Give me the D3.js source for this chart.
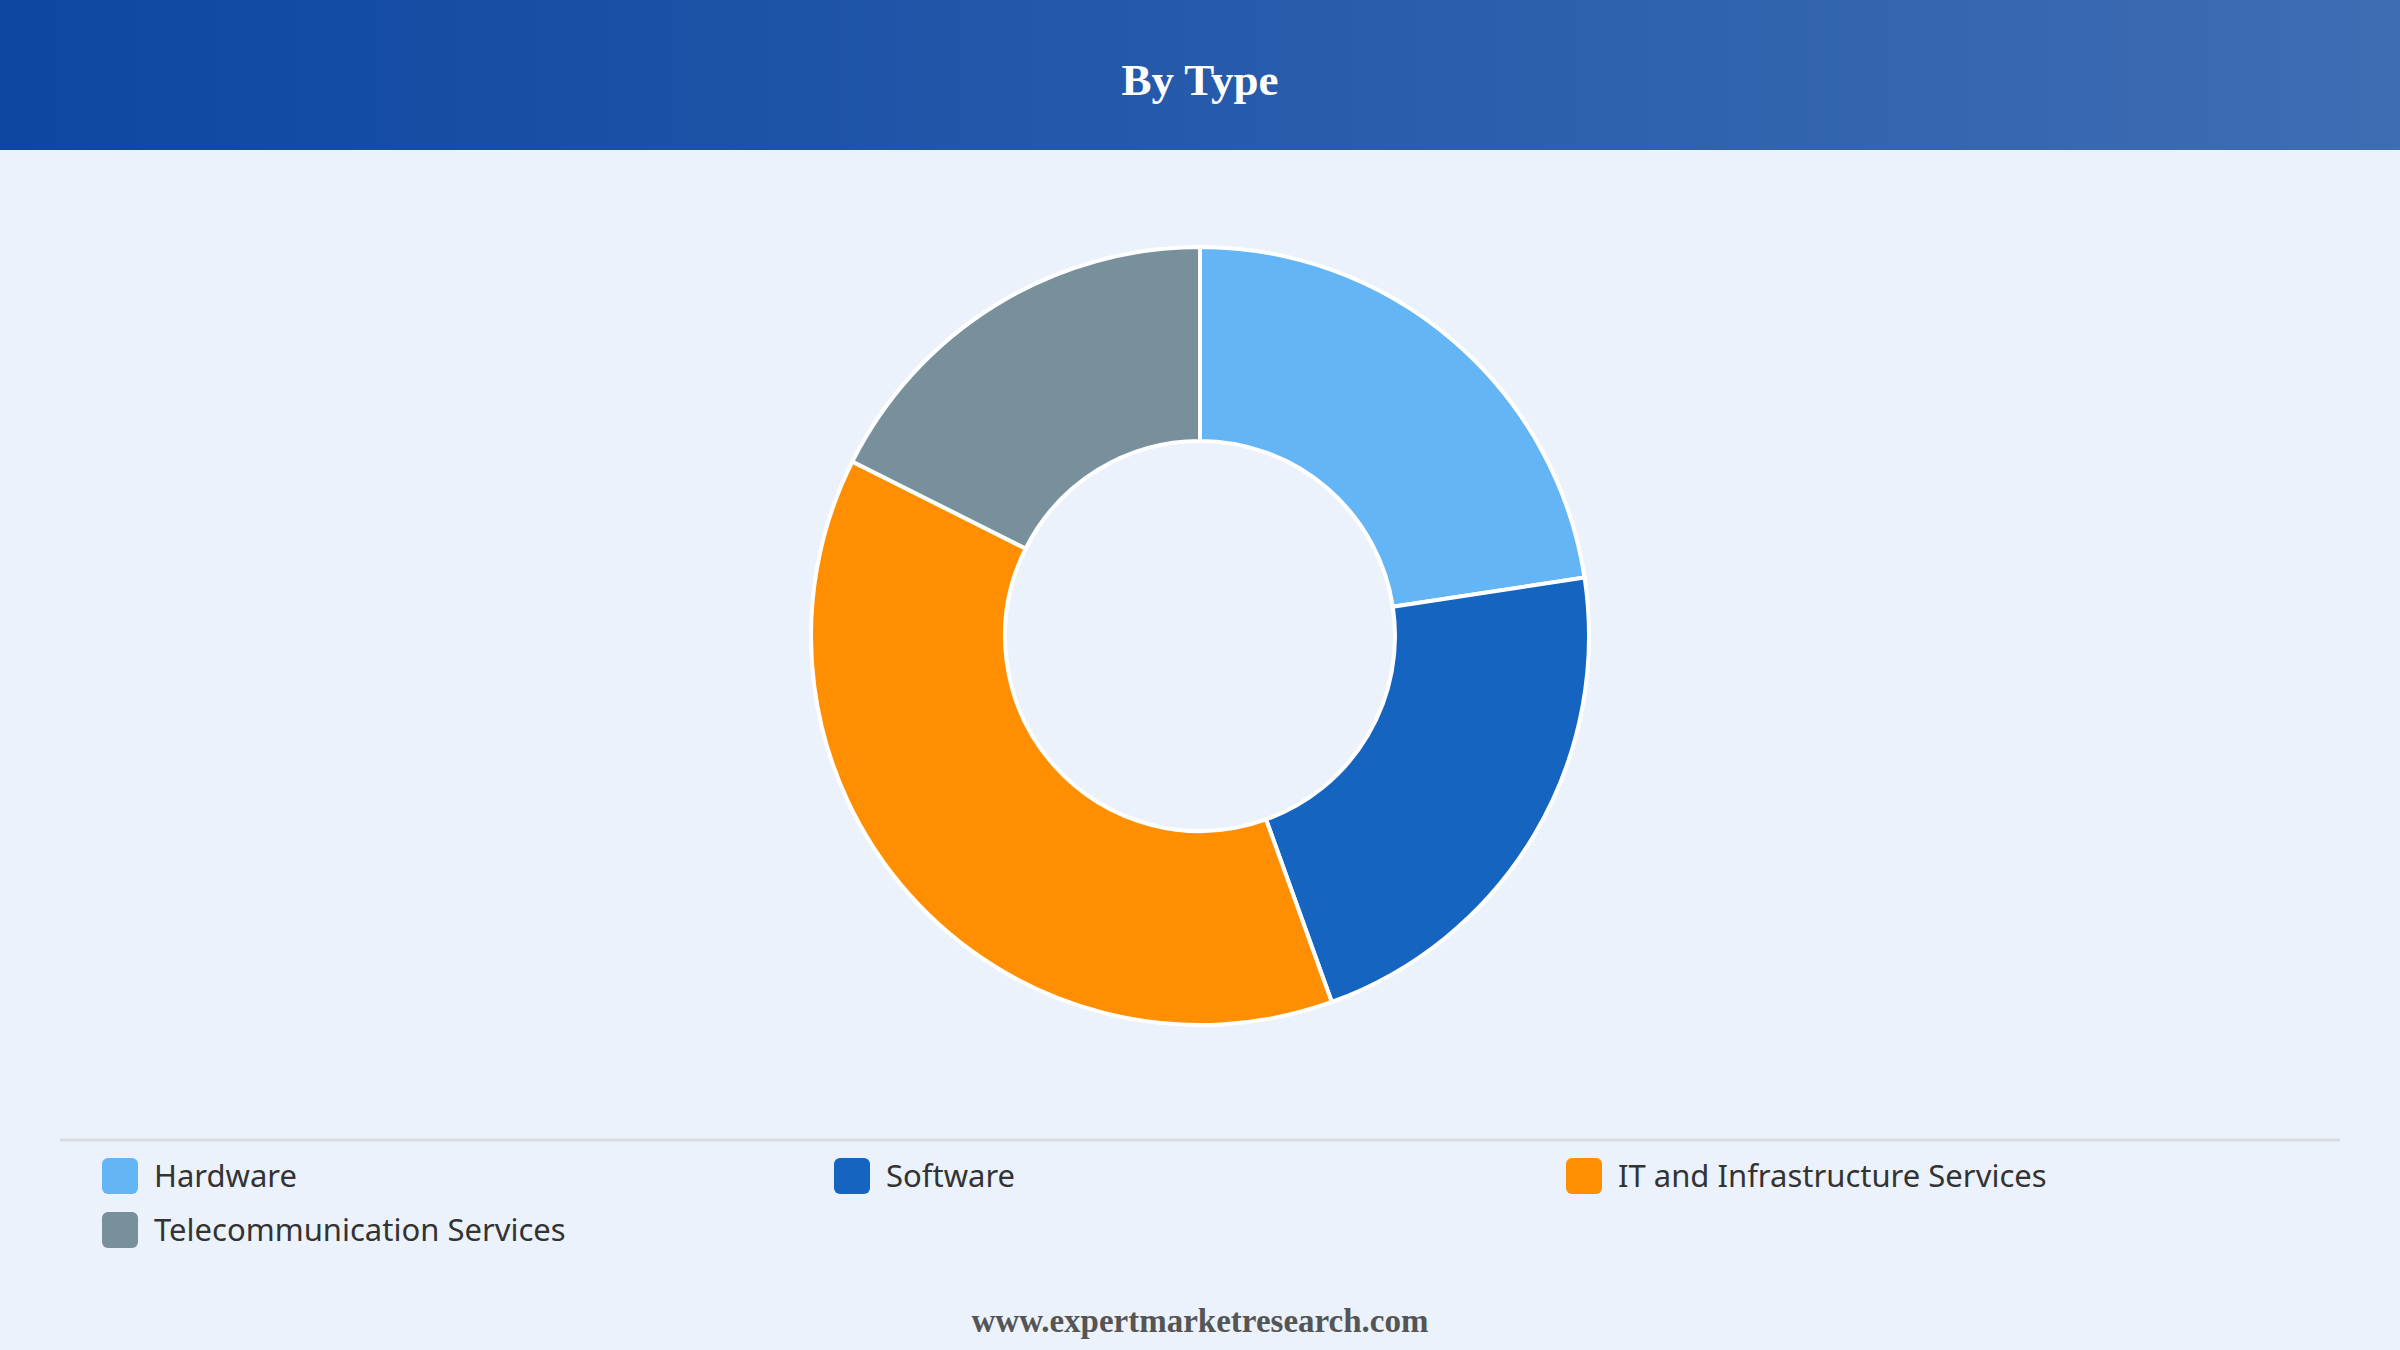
<html>
<head>
<script src="https://d3js.org/d3.v7.min.js"></script>
<style>
  body { margin: 0; background: #EBF2FB; }
  svg { display: block; }
</style>
</head>
<body>
<svg id="chart" width="2400" height="1350"></svg>
<script>
// chart data
var categories = ["Hardware", "Software", "IT and Infrastructure Services", "Telecommunication Services"];
var shares = [22.6, 21.9, 37.9, 17.6];
var colours = ["#64B5F6", "#1565C0", "#FF8F00", "#78909C"];

var W = 2400, H = 1350;
var svg = d3.select("#chart");

// background
svg.append("rect").attr("width", W).attr("height", H).attr("fill", "#EBF2FB");

// header band with gradient
var defs = svg.append("defs");
var grad = defs.append("linearGradient").attr("id", "hdr").attr("x1", "0%").attr("x2", "100%");
grad.append("stop").attr("offset", "0%").attr("stop-color", "#0D47A1");
grad.append("stop").attr("offset", "100%").attr("stop-color", "#3F6DB4");
svg.append("rect").attr("width", W).attr("height", 150).attr("fill", "url(#hdr)");

svg.append("text")
    .attr("x", W / 2).attr("y", 95)
    .attr("text-anchor", "middle")
    .style("font-family", "'Liberation Serif', 'Times New Roman', serif")
    .style("font-weight", "bold")
    .style("font-size", "45px")
    .attr("fill", "#fff")
    .text("By Type");

// donut
var cx = 1200, cy = 636;
var pie = d3.pie().sort(null).value(function(d) { return d; });
var arc = d3.arc().innerRadius(195).outerRadius(389);

var g = svg.append("g").attr("transform", "translate(" + cx + "," + cy + ")");
g.selectAll("path")
  .data(pie(shares))
  .enter().append("path")
    .attr("d", arc)
    .attr("fill", function(d, i) { return colours[i]; })
    .attr("stroke", "#fff")
    .attr("stroke-width", 4);

// separator line
svg.append("line")
    .attr("x1", 60).attr("x2", 2340)
    .attr("y1", 1140).attr("y2", 1140)
    .attr("stroke", "#DADDE2").attr("stroke-width", 3);

// legend
var colX = d3.scaleOrdinal().domain([0, 1, 2]).range([102, 834, 1566]);
var legend = svg.append("g").selectAll("g")
  .data(categories)
  .enter().append("g")
    .attr("transform", function(d, i) {
      return "translate(" + colX(i % 3) + "," + (1158 + Math.floor(i / 3) * 54) + ")";
    });

legend.append("rect")
    .attr("width", 36).attr("height", 36)
    .attr("rx", 6).attr("ry", 6)
    .attr("fill", function(d, i) { return colours[i]; });

legend.append("text")
    .attr("x", 52).attr("y", 18)
    .attr("dy", "0.36em")
    .style("font-family", "'Noto Sans', 'Open Sans', sans-serif")
    .style("font-size", "31px")
    .attr("fill", "#333")
    .text(function(d) { return d; });

// footer
svg.append("text")
    .attr("x", W / 2).attr("y", 1332)
    .attr("text-anchor", "middle")
    .style("font-family", "'Liberation Serif', 'Times New Roman', serif")
    .style("font-weight", "bold")
    .style("font-size", "33px")
    .attr("fill", "#555")
    .text("www.expertmarketresearch.com");
</script>
</body>
</html>
